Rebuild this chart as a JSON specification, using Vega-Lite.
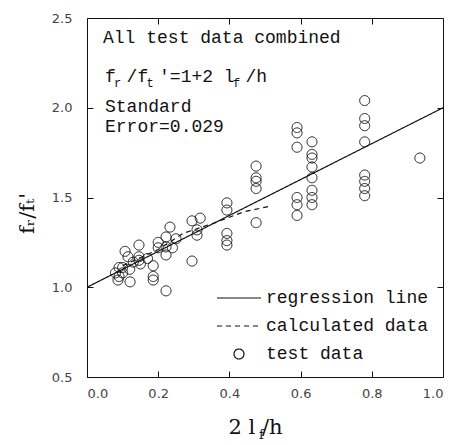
{
  "$schema": "https://vega.github.io/schema/vega-lite/v6.json",
  "width": 356,
  "height": 359,
  "autosize": "none",
  "padding": {"left": 87, "top": 18, "right": 12, "bottom": 68},
  "background": "white",
  "config": {
    "view": {"stroke": "#111", "strokeWidth": 1},
    "axis": {
      "domain": false, "grid": false, "tickColor": "#111", "tickSize": -6, "tickWidth": 1,
      "labelFont": "DejaVu Sans", "labelFontSize": 13, "labelColor": "#444",
      "titleFont": "DejaVu Serif", "titleFontWeight": "normal", "titleColor": "#111", "titleFontSize": 21
    },
    "legend": {
      "orient": "bottom-right", "offset": 14, "title": null,
      "labelFont": "Liberation Mono", "labelFontSize": 18, "labelColor": "#111", "labelLimit": 400,
      "symbolStrokeColor": "#111", "symbolStrokeWidth": 1.2, "symbolFillColor": "transparent", "symbolSize": 100,
      "symbolOpacity": 1, "rowPadding": 10, "labelOffset": 18, "padding": 0
    }
  },
  "datasets": {
    "tests": [
      {"x": 0.78, "y": 2.04}, {"x": 0.78, "y": 1.94}, {"x": 0.78, "y": 1.90}, {"x": 0.78, "y": 1.81},
      {"x": 0.78, "y": 1.625}, {"x": 0.78, "y": 1.59}, {"x": 0.78, "y": 1.55}, {"x": 0.78, "y": 1.51},
      {"x": 0.935, "y": 1.72},
      {"x": 0.59, "y": 1.89}, {"x": 0.59, "y": 1.86}, {"x": 0.59, "y": 1.78}, {"x": 0.59, "y": 1.50},
      {"x": 0.59, "y": 1.46}, {"x": 0.59, "y": 1.40},
      {"x": 0.632, "y": 1.81}, {"x": 0.632, "y": 1.74}, {"x": 0.632, "y": 1.72}, {"x": 0.632, "y": 1.67},
      {"x": 0.632, "y": 1.61}, {"x": 0.632, "y": 1.54}, {"x": 0.632, "y": 1.50}, {"x": 0.632, "y": 1.46},
      {"x": 0.475, "y": 1.675}, {"x": 0.475, "y": 1.61}, {"x": 0.475, "y": 1.59}, {"x": 0.475, "y": 1.55},
      {"x": 0.475, "y": 1.36},
      {"x": 0.393, "y": 1.47}, {"x": 0.393, "y": 1.43}, {"x": 0.393, "y": 1.30}, {"x": 0.393, "y": 1.26},
      {"x": 0.393, "y": 1.235},
      {"x": 0.318, "y": 1.385}, {"x": 0.295, "y": 1.37}, {"x": 0.309, "y": 1.32}, {"x": 0.309, "y": 1.29},
      {"x": 0.295, "y": 1.146},
      {"x": 0.233, "y": 1.335}, {"x": 0.222, "y": 1.28}, {"x": 0.222, "y": 1.225}, {"x": 0.222, "y": 1.18},
      {"x": 0.2, "y": 1.25}, {"x": 0.2, "y": 1.22},
      {"x": 0.146, "y": 1.235}, {"x": 0.146, "y": 1.17}, {"x": 0.146, "y": 1.15},
      {"x": 0.107, "y": 1.20}, {"x": 0.115, "y": 1.17}, {"x": 0.09, "y": 1.11}, {"x": 0.10, "y": 1.11},
      {"x": 0.186, "y": 1.12}, {"x": 0.186, "y": 1.06}, {"x": 0.186, "y": 1.04},
      {"x": 0.087, "y": 1.04}, {"x": 0.121, "y": 1.03}, {"x": 0.222, "y": 0.98},
      {"x": 0.08, "y": 1.08}, {"x": 0.10, "y": 1.08}, {"x": 0.13, "y": 1.14}, {"x": 0.15, "y": 1.13},
      {"x": 0.17, "y": 1.16}, {"x": 0.24, "y": 1.22}, {"x": 0.25, "y": 1.27}, {"x": 0.12, "y": 1.10},
      {"x": 0.09, "y": 1.06}
    ],
    "lines": [
      {"x": 0.0, "y": 1.0, "series": "regression line"},
      {"x": 1.0, "y": 2.0, "series": "regression line"},
      {"x": 0.1, "y": 1.12, "series": "calculated data"},
      {"x": 0.2, "y": 1.21, "series": "calculated data"},
      {"x": 0.27, "y": 1.30, "series": "calculated data"},
      {"x": 0.36, "y": 1.36, "series": "calculated data"},
      {"x": 0.44, "y": 1.42, "series": "calculated data"},
      {"x": 0.51, "y": 1.45, "series": "calculated data"}
    ],
    "notes": [
      {"x": 0.045, "y": 2.36, "label": "All test data combined"},
      {"x": 0.0506, "y": 2.143, "label": "f /f '=1+2 l /h"},
      {"x": 0.0506, "y": 1.976, "label": "Standard"},
      {"x": 0.0506, "y": 1.865, "label": "Error=0.029"}
    ],
    "subs": [
      {"x": 0.076, "y": 2.115, "label": "r"},
      {"x": 0.167, "y": 2.115, "label": "t"},
      {"x": 0.41, "y": 2.115, "label": "f"}
    ]
  },
  "layer": [
    {
      "data": {"name": "tests"},
      "mark": {"type": "point", "filled": false, "strokeWidth": 1, "color": "#111", "size": 100, "opacity": 1},
      "encoding": {
        "x": {"field": "x", "type": "quantitative", "scale": {"domain": [0, 1], "nice": false},
          "axis": {"orient": "bottom", "values": [0, 0.2, 0.4, 0.6, 0.8, 1.0], "format": ".1f", "labelPadding": 16,
            "title": "2  l /h", "titleX": 168, "titleY": 56, "titleBaseline": "alphabetic", "titleAlign": "center"}},
        "y": {"field": "y", "type": "quantitative", "scale": {"domain": [0.5, 2.5], "nice": false},
          "axis": {"orient": "left", "values": [0.5, 1.0, 1.5, 2.0, 2.5], "format": ".1f", "labelPadding": 21,
            "title": "fᵣ/fₜ'", "titleX": -54, "titleY": 195, "titleAngle": 270, "titleBaseline": "alphabetic", "titleAlign": "center"}},
        "shape": {"datum": "test data", "scale": {"type": "ordinal", "domain": ["regression line", "calculated data", "test data"], "range": ["M-4.4,0L4.4,0", "M-4.4,0L4.4,0", "circle"]}},
        "strokeDash": {"datum": "test data", "scale": {"type": "ordinal", "domain": ["regression line", "calculated data", "test data"], "range": [[1, 0], [5, 4], [1, 0]]}}
      }
    },
    {
      "data": {"name": "lines"},
      "mark": {"type": "line", "color": "#111", "strokeWidth": 1.2},
      "encoding": {
        "x": {"field": "x", "type": "quantitative", "axis": null},
        "y": {"field": "y", "type": "quantitative", "axis": null},
        "strokeDash": {"field": "series", "type": "nominal"}
      }
    },
    {
      "data": {"name": "notes"},
      "mark": {"type": "text", "align": "left", "baseline": "alphabetic", "font": "Liberation Mono", "fontSize": 18, "color": "#111"},
      "encoding": {
        "x": {"field": "x", "type": "quantitative", "axis": null},
        "y": {"field": "y", "type": "quantitative", "axis": null},
        "text": {"field": "label"}
      }
    },
    {
      "data": {"name": "subs"},
      "mark": {"type": "text", "align": "left", "baseline": "alphabetic", "font": "Liberation Mono", "fontSize": 12, "color": "#111"},
      "encoding": {
        "x": {"field": "x", "type": "quantitative", "axis": null},
        "y": {"field": "y", "type": "quantitative", "axis": null},
        "text": {"field": "label"}
      }
    },
    {
      "data": {"name": "lines"},
      "mark": {"type": "point", "opacity": 0},
      "encoding": {
        "x": {"field": "x", "type": "quantitative",
          "axis": {"orient": "top", "values": [0.2, 0.4, 0.6, 0.8], "labels": false, "title": null}},
        "y": {"field": "y", "type": "quantitative",
          "axis": {"orient": "right", "values": [1.0, 1.5, 2.0], "labels": false, "title": null}}
      }
    },
    {
      "data": {"name": "lines"},
      "mark": {"type": "point", "opacity": 0},
      "encoding": {
        "x": {"field": "x", "type": "quantitative",
          "axis": {"orient": "bottom", "ticks": false, "labels": false, "title": "f", "titleFontSize": 13,
            "titleX": 174, "titleY": 61, "titleBaseline": "alphabetic", "titleAlign": "center"}},
        "y": {"field": "y", "type": "quantitative", "axis": null}
      }
    }
  ],
  "resolve": {"axis": {"x": "independent", "y": "independent"}}
}
